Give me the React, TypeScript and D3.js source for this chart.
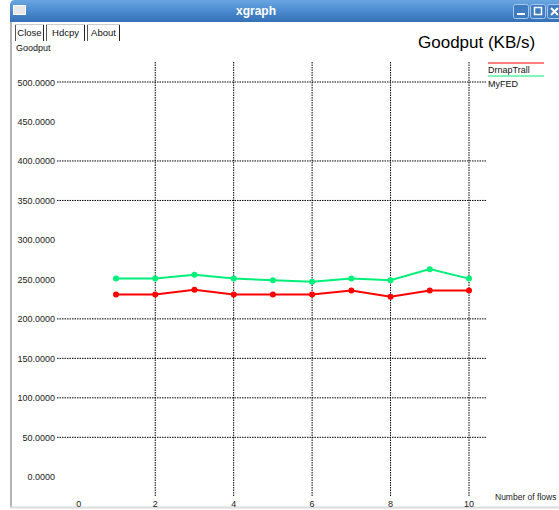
import React from "react";
import * as d3 from "d3";

// flows 1..10, goodput in KB/s
const flows = [1, 2, 3, 4, 5, 6, 7, 8, 9, 10];
const drnapTrail = [231, 231, 237, 231, 231, 231, 236, 228, 236, 236];
const myFed = [251, 251, 256, 251, 249, 247, 251, 249, 263, 251];

const seriesNames = ["DrnapTrall", "MyFED"];
const seriesColors = ["#ff0000", "#00f07a"];

const yTicks = [0, 50, 100, 150, 200, 250, 300, 350, 400, 450, 500];
// only these horizontal grid lines show up in the screenshot
const yGridTicks = [50, 100, 150, 200, 350, 400, 500];
const xTicks = [0, 2, 4, 6, 8, 10];
const xGridTicks = [2, 4, 6, 8, 10];

const W = 559;
const H = 510;
const FONT = "'Liberation Sans', Arial, Helvetica, sans-serif";

export default function App() {
  const x = d3.scaleLinear().domain([0, 10]).range([76.8, 469]);
  const y = d3.scaleLinear().domain([0, 500]).range([476.8, 82]);

  const line = d3
    .line<number>()
    .x((_, i) => x(flows[i]))
    .y(d => y(d));

  const series = [drnapTrail, myFed];
  const buttons = [
    { label: "Close", x0: 15, x1: 44 },
    { label: "Hdcpy", x0: 46, x1: 85 },
    { label: "About", x0: 87, x1: 120 }
  ];

  return (
    <svg
      width={W}
      height={H}
      style={{ position: "absolute", left: 0, top: 0, fontFamily: FONT }}
    >
      <defs>
        <linearGradient id="titleGrad" x1="0" y1="0" x2="0" y2="1">
          <stop offset="0" stopColor="#6aa6e0" />
          <stop offset="0.5" stopColor="#4a8ad0" />
          <stop offset="1" stopColor="#3570b6" />
        </linearGradient>
      </defs>
      <rect width={W} height={H} fill="#ffffff" />

      {/* window frame */}
      <rect x={10} y={20} width={W - 10} height={488} fill="#ffffff" />
      <line x1={11} y1={20} x2={11} y2={508} stroke="#9a9a9a" strokeWidth={1.5} />
      <line x1={10} y1={507.5} x2={W} y2={507.5} stroke="#dcdcdc" strokeWidth={2} />
      <path d={`M10,22 V5 Q10,0 15,0 H${W} V22 Z`} fill="url(#titleGrad)" />
      <rect x={13.5} y={5.5} width={12} height={9} fill="#e8e8e8" stroke="#ffffff" />
      <text x={256} y={15} textAnchor="middle" fill="#ffffff" fontSize={12} fontWeight="bold">
        xgraph
      </text>
      {[513, 530, 547].map((bx, i) => (
        <g key={bx}>
          <rect x={bx + 0.5} y={4.5} width={15} height={14} rx={2} fill="#3f7cc2" stroke="#a9c8ec" />
          {i === 0 && <rect x={bx + 4} y={13} width={8} height={2} fill="#ffffff" />}
          {i === 1 && <rect x={bx + 4.5} y={7.5} width={7} height={7} fill="none" stroke="#ffffff" strokeWidth={1.5} />}
          {i === 2 && <path d={`M${bx + 4},8 L${bx + 11},15 M${bx + 11},8 L${bx + 4},15`} stroke="#ffffff" strokeWidth={2} />}
        </g>
      ))}

      {/* xgraph buttons */}
      {buttons.map(b => (
        <g key={b.label}>
          <rect x={b.x0} y={24} width={b.x1 - b.x0} height={17} fill="#ffffff" />
          <line x1={b.x0 + 0.5} y1={24} x2={b.x0 + 0.5} y2={41} stroke="#555" />
          <line x1={b.x1 - 0.5} y1={24} x2={b.x1 - 0.5} y2={41} stroke="#222" />
          <line x1={b.x0} y1={24.5} x2={b.x1} y2={24.5} stroke="#ccc" />
          <text x={(b.x0 + b.x1) / 2} y={36} textAnchor="middle" fontSize={9.5} fill="#111">
            {b.label}
          </text>
        </g>
      ))}
      <text x={16} y={51} fontSize={9} fill="#111">Goodput</text>
      <text x={418} y={48} fontSize={17} fill="#000">Goodput (KB/s)</text>

      {/* grid */}
      {yGridTicks.map(t => (
        <line key={t} x1={57} x2={487} y1={y(t)} y2={y(t)} stroke="#000" strokeWidth={1} strokeDasharray="1.5,1" />
      ))}
      {xGridTicks.map(t => (
        <line key={t} x1={x(t)} x2={x(t)} y1={62} y2={496} stroke="#000" strokeWidth={1} strokeDasharray="1.5,1" />
      ))}

      {/* y labels */}
      {yTicks.map(t => (
        <text key={t} x={55} y={y(t) + 3.5} textAnchor="end" fontSize={9} fill="#222">
          {d3.format(".4f")(t)}
        </text>
      ))}
      {/* x labels */}
      {xTicks.map(t => (
        <text key={t} x={x(t) + (t === 0 ? 2 : 0)} y={507} textAnchor="middle" fontSize={9} fill="#222">
          {t}
        </text>
      ))}
      <text x={495} y={500} fontSize={8.5} fill="#222">Number of flows</text>

      {/* series */}
      {series.map((s, k) => (
        <g key={k}>
          <path d={line(s) ?? ""} fill="none" stroke={seriesColors[k]} strokeWidth={2} />
          {s.map((v, i) => (
            <circle key={i} cx={x(flows[i])} cy={y(v)} r={3} fill={seriesColors[k]} />
          ))}
        </g>
      ))}

      {/* legend */}
      {seriesNames.map((name, k) => (
        <g key={name}>
          <line x1={488} x2={544} y1={63 + k * 13} y2={63 + k * 13} stroke={seriesColors[k]} strokeWidth={1} />
          <text x={488} y={73 + k * 13.5} fontSize={9} fill="#111">{name}</text>
        </g>
      ))}
    </svg>
  );
}
